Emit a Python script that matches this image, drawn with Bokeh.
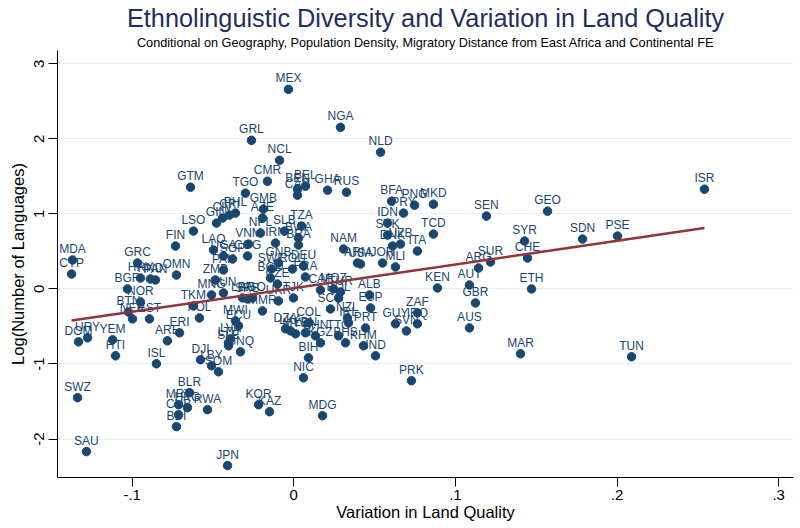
from bokeh.plotting import figure
from bokeh.models import ColumnDataSource, FixedTicker, Title
from bokeh.core.properties import value
from bokeh.embed import file_html
from bokeh.resources import INLINE

codes = ["MEX","NGA","GRL","NCL","NLD","CMR","GTM","TGO","BEN","BEL","CAN","GHA","RUS","BFA","PRY","PNG","MKD",
         "IDN","SVK","DNK","UZB","ITA","TCD","NAM","ARM","USA","JOR","MLI","SEN","GEO","SYR","SDN","PSE","ISR",
         "CHE","SUR","ARG","AUT","KEN","ETH","GBR","AUS","MAR","TUN","ZAF","IRQ","GUY","SVN","PRK","ALB","ESP",
         "NZL","IRL","PRT","KHM","IND","CAF","MOZ","TUR","SCG","BOL","COL","DZA","LKA","MYS","LBN","CHN","KGZ",
         "TTO","BHS","BIH","NIC","MDG","KAZ","KOR","JPN","SAU","SWZ","BLR","MRT","HKG","CUB","BDI","RWA","DJI",
         "LBY","SOM","ISL","HTI","YEM","URY","DOM","ARE","ERI","POL","TKM","MNG","HUN","LBR","SRB","AGO","MMR",
         "MWI","ECU","LVA","LTU","SLE","GNQ","ZMB","PAK","UGA","SGP","GNB","SWE","DEU","ROU","FRA","BGD","CZE",
         "UKR","TJK","VNM","COG","IRN","NPL","SLB","TZA","BWA","BRA","GMB","AZE","CRI","PHL","CIV","GIN","LSO",
         "FIN","LAO","MDA","CYP","GRC","HRV","HND","PAN","OMN","BGR","NOR","BTN","NER","EST"]

land_quality_var = [-0.0033,0.0289,-0.0262,-0.0088,0.0537,-0.0163,-0.0639,-0.0299,0.0023,0.0072,0.0023,0.0209,
         0.0326,0.0605,0.0679,0.0747,0.0864,0.0580,0.0580,0.0611,0.0660,0.0765,0.0864,0.0308,0.0394,0.0413,
         0.0549,0.0629,0.1192,0.1570,0.1428,0.1787,0.2003,0.2541,0.1446,0.1217,0.1143,0.1087,0.0889,0.1471,
         0.1124,0.1087,0.1403,0.2090,0.0765,0.0765,0.0629,0.0697,0.0728,0.0468,0.0475,0.0332,0.0339,0.0444,
         0.0431,0.0506,0.0165,0.0246,0.0289,0.0227,0.0277,0.0091,-0.0051,-0.0020,0.0011,0.0072,0.0134,0.0165,
         0.0277,0.0320,0.0091,0.0060,0.0178,-0.0150,-0.0218,-0.0410,-0.1283,-0.1338,-0.0645,-0.0713,-0.0658,
         -0.0713,-0.0726,-0.0534,-0.0577,-0.0509,-0.0466,-0.0850,-0.1103,-0.1121,-0.1276,-0.1332,-0.0782,-0.0707,
         -0.0584,-0.0621,-0.0509,-0.0435,-0.0317,-0.0287,-0.0256,-0.0194,-0.0361,-0.0342,-0.0392,-0.0404,-0.0404,
         -0.0330,-0.0485,-0.0435,-0.0435,-0.0379,-0.0095,-0.0138,0.0060,-0.0008,0.0072,-0.0144,-0.0101,-0.0095,
         -0.0002,-0.0280,-0.0286,-0.0113,-0.0206,-0.0058,0.0048,0.0029,0.0029,-0.0188,-0.0194,-0.0398,-0.0361,
         -0.0441,-0.0478,-0.0621,-0.0732,-0.0497,-0.1369,-0.1375,-0.0967,-0.0949,-0.0887,-0.0856,-0.0726,-0.1029,
         -0.0949,-0.1023,-0.0998,-0.0893]

log_languages = [2.660,2.154,1.981,1.715,1.822,1.436,1.356,1.277,1.330,1.370,1.250,1.317,1.290,1.170,1.011,1.117,
         1.130,0.878,0.718,0.572,0.598,0.505,0.731,0.532,0.346,0.332,0.346,0.293,0.971,1.037,0.638,0.665,0.705,
         1.330,0.412,0.359,0.279,0.053,0.013,0.000,-0.186,-0.519,-0.864,-0.904,-0.319,-0.465,-0.465,-0.559,-1.223,
         -0.080,-0.253,-0.386,-0.452,-0.519,-0.758,-0.891,-0.013,0.000,-0.040,-0.266,-0.120,-0.452,-0.532,-0.559,
         -0.598,-0.585,-0.625,-0.718,-0.625,-0.718,-0.918,-1.184,-1.689,-1.636,-1.543,-2.354,-2.168,-1.449,-1.383,
         -1.543,-1.582,-1.676,-1.835,-1.609,-0.944,-1.024,-1.104,-0.997,-0.891,-0.678,-0.652,-0.705,-0.691,-0.585,
         -0.386,-0.226,-0.080,-0.053,-0.120,-0.133,-0.120,-0.293,-0.426,-0.492,-0.665,-0.718,-0.758,-0.838,0.120,
         0.253,0.439,0.399,0.346,0.266,0.306,0.266,0.160,0.146,0.066,-0.160,-0.120,0.598,0.439,0.612,0.745,0.771,
         0.838,0.678,0.585,1.064,0.944,0.984,1.011,0.944,0.878,0.771,0.572,0.519,0.386,0.199,0.346,0.146,0.133,
         0.120,0.186,0.000,-0.173,-0.306,-0.399,-0.399]

fit_slope = 3.149
fit_intercept = 0.011

x_ticks = [-0.1, 0.0, 0.1, 0.2, 0.3]
x_tick_labels = ["-.1", "0", ".1", ".2", ".3"]
y_ticks = [-2, -1, 0, 1, 2, 3]
y_tick_labels = ["-2", "-1", "0", "1", "2", "3"]

title_text = "Ethnolinguistic Diversity and Variation in Land Quality"
subtitle_text = "Conditional on Geography, Population Density, Migratory Distance from East Africa and Continental FE"

NAVY = "#1a476f"
FONT = "Liberation Sans"

src = ColumnDataSource(dict(x=land_quality_var, y=log_languages, code=codes))

p = figure(width=800, height=528, x_range=(-0.1462, 0.3092), y_range=(-2.513, 3.178),
           output_backend="svg", toolbar_location=None, title_location=None,
           min_border_left=57, min_border_right=7, min_border_top=49, min_border_bottom=51)
p.outline_line_color = None
p.background_fill_color = "white"
p.border_fill_color = "white"
p.xgrid.visible = False
p.ygrid.grid_line_color = "#e6eff2"
p.ygrid.grid_line_width = 1.2

p.xaxis.ticker = FixedTicker(ticks=x_ticks)
p.xaxis.major_label_overrides = {t: l for t, l in zip(x_ticks, x_tick_labels)}
p.yaxis.ticker = FixedTicker(ticks=y_ticks)
p.yaxis.major_label_overrides = {t: l for t, l in zip(y_ticks, y_tick_labels)}
p.yaxis.major_label_orientation = "vertical"
for ax in (p.xaxis, p.yaxis):
    ax.minor_tick_line_color = None
    ax.major_tick_out = 9
    ax.major_tick_in = 0
    ax.axis_line_color = "black"
    ax.major_tick_line_color = "black"
    ax.major_label_text_font = FONT
    ax.major_label_text_font_size = "15px"
    ax.major_label_text_color = "black"
    ax.axis_label_text_font = FONT
    ax.axis_label_text_font_size = "16.5px"
    ax.axis_label_text_font_style = "normal"
    ax.axis_label_text_color = "black"
p.yaxis.major_label_standoff = 4
p.yaxis.axis_label_standoff = 5
p.xaxis.major_label_standoff = 3
p.xaxis.axis_label_standoff = 0
p.xaxis.axis_label = "Variation in Land Quality"
p.yaxis.axis_label = "Log(Number of Languages)"

p.scatter("x", "y", source=src, size=8.5, marker="circle", fill_color=NAVY, line_color=NAVY)
p.text("x", "y", text="code", source=src, text_align="center", text_baseline="middle",
       y_offset=-11, text_font=value(FONT), text_font_size="12px", text_color=NAVY)

xmin, xmax = min(land_quality_var), max(land_quality_var)
p.line([xmin, xmax], [fit_intercept + fit_slope * xmin, fit_intercept + fit_slope * xmax],
       line_color="#90353b", line_width=2.5)

p.add_layout(Title(text=subtitle_text, align="center", text_font=FONT, text_font_size="12.7px",
                   text_font_style="normal", text_color="black", standoff=1), "above")
p.add_layout(Title(text=title_text, align="center", text_font=FONT, text_font_size="25.3px",
                   text_font_style="normal", text_color="#1e2f5e", standoff=3), "above")

open("out.html", "w").write(file_html(p, INLINE))
